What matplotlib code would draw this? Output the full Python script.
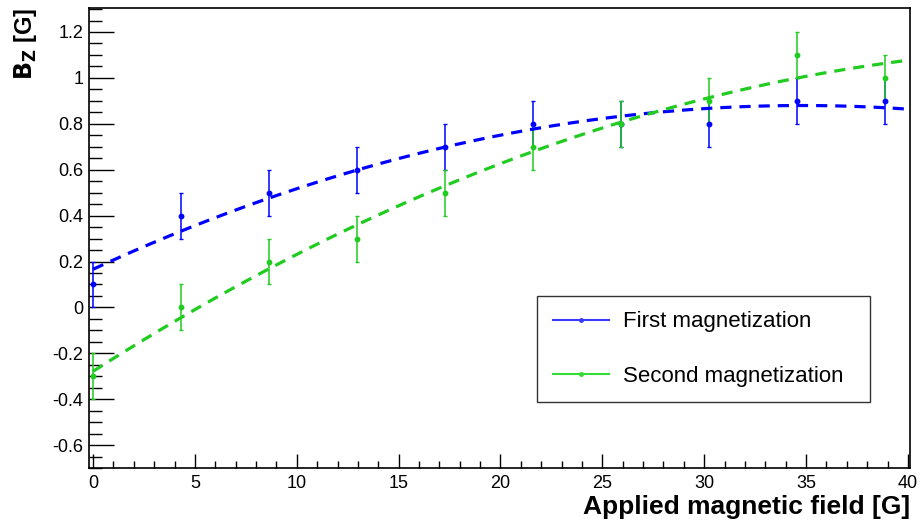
import numpy as np
import matplotlib.pyplot as plt
from matplotlib.ticker import MultipleLocator
from matplotlib.lines import Line2D

plt.rcParams['font.family'] = ['Liberation Sans', 'DejaVu Sans']

# measured points
field = [0, 4.32, 8.64, 12.96, 17.28, 21.6, 25.92, 30.24, 34.56, 38.88]
bz_first = [0.1, 0.4, 0.5, 0.6, 0.7, 0.8, 0.8, 0.8, 0.9, 0.9]
bz_second = [-0.3, 0.0, 0.2, 0.3, 0.5, 0.7, 0.8, 0.9, 1.1, 1.0]
err_first = [0.1] * 10
err_second = [0.1] * 10

blue = '#0000ff'
green = '#1fcc1f'

fig = plt.figure(figsize=(9.21, 5.26), dpi=100)
ax = fig.add_axes([0.0966, 0.110, 0.8914, 0.875])

# pol2 fits like in ROOT
xfit = np.linspace(0, 40, 300)
c1 = np.polyfit(field, bz_first, 2)
c2 = np.polyfit(field, bz_second, 2)

ax.errorbar(field, bz_first, yerr=err_first, fmt='o', color=blue, ms=3.2,
            elinewidth=1.1, capsize=1.5, capthick=1.0, zorder=3)
ax.errorbar(field, bz_second, yerr=err_second, fmt='o', color=green, ms=3.2,
            elinewidth=1.1, capsize=1.5, capthick=1.0, zorder=3)
ax.plot(xfit, np.polyval(c1, xfit), color=blue, lw=2.3, dashes=(3.5, 2.5), zorder=4)
ax.plot(xfit, np.polyval(c2, xfit), color=green, lw=2.3, dashes=(3.5, 2.5), zorder=4)

ax.set_xlim(-0.2, 40.1)
ax.set_ylim(-0.70, 1.305)

ax.xaxis.set_major_locator(MultipleLocator(5))
ax.xaxis.set_minor_locator(MultipleLocator(1))
ax.yaxis.set_major_locator(MultipleLocator(0.2))
ax.yaxis.set_minor_locator(MultipleLocator(0.05))
ax.yaxis.set_major_formatter(plt.FuncFormatter(lambda v, p: '%g' % round(v, 2)))

# ROOT style: ticks inside, y ticks longer than x ticks
ax.tick_params(which='both', direction='in', top=False, right=False, labelsize=13, width=1)
ax.tick_params(axis='x', which='major', length=10, pad=5)
ax.tick_params(axis='x', which='minor', length=5)
ax.tick_params(axis='y', which='major', length=18, pad=4)
ax.tick_params(axis='y', which='minor', length=9)
for s in ax.spines.values():
    s.set_linewidth(1.2)

ax.set_xlabel('Applied magnetic field [G]', fontsize=19, fontweight='bold', loc='right', labelpad=2)
ax.set_ylabel(r'$\mathbf{B_Z}$ [G]', fontsize=17, fontweight='bold', loc='top', labelpad=10)

handles = [Line2D([], [], color='#3a3aff', marker='o', ms=2.5, lw=1.5),
           Line2D([], [], color='#33dd33', marker='o', ms=2.5, lw=1.5)]
leg = ax.legend(handles, ['First magnetization', 'Second magnetization'],
                loc='lower left', bbox_to_anchor=(0.546, 0.143, 0.405, 0.237),
                mode='expand', fontsize=16, frameon=True, fancybox=False,
                edgecolor='black', borderpad=0.7, labelspacing=1.5,
                handlelength=2.55, handletextpad=0.63, borderaxespad=0)
leg.get_frame().set_linewidth(1.0)

fig.savefig('out.png', dpi=100)
